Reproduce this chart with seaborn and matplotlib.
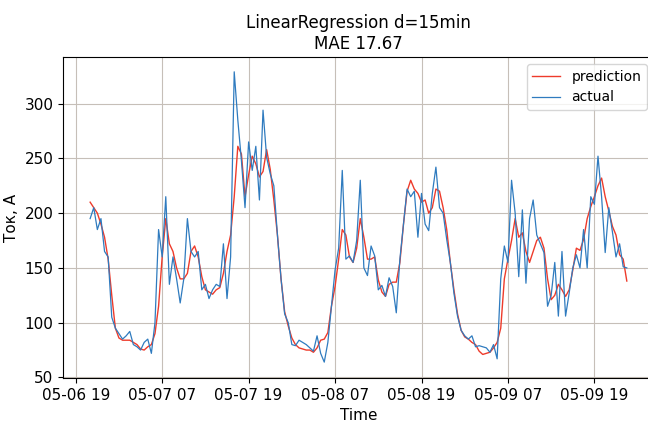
import numpy as np
import pandas as pd
import matplotlib
matplotlib.use("Agg")
import matplotlib.pyplot as plt
import matplotlib.dates as mdates
import seaborn as sns

# 30-min samples, 05-06 21:00 onwards
start_time = "2019-05-06 21:00"
step = "30min"

actual = [
    195, 205, 185, 195, 165, 160, 105, 95, 90, 85,
    88, 92, 80, 78, 75, 82, 85, 72, 100, 185,
    160, 215, 135, 160, 140, 118, 140, 195, 165, 160,
    165, 130, 135, 122, 130, 135, 133, 172, 122, 160,
    329, 285, 248, 205, 265, 239, 261, 212, 294, 251,
    236, 225, 180, 140, 108, 100, 80, 79, 84, 82,
    80, 77, 74, 88, 72, 64, 82, 115, 148, 168,
    239, 158, 161, 155, 175, 230, 150, 143, 170, 161,
    130, 134, 124, 141, 133, 109, 158, 190, 222, 215,
    220, 178, 218, 190, 184, 218, 242, 205, 200, 176,
    155, 127, 106, 93, 88, 85, 88, 78, 79, 78,
    77, 73, 80, 67, 140, 170, 155, 230, 200, 142,
    203, 136, 195, 212, 180, 172, 164, 115, 125, 155,
    106, 165, 106, 127, 150, 162, 150, 185, 150, 215,
    208, 252, 215, 164, 205, 183, 160, 172, 151, 150,
]

prediction = [
    210, 205, 200, 190, 178, 158, 125, 95, 86, 84,
    84, 84, 82, 80, 76, 75, 78, 80, 90, 115,
    160, 195, 172, 165, 150, 140, 140, 145, 165, 170,
    160, 142, 130, 128, 126, 130, 132, 145, 165, 180,
    215, 261, 254, 215, 235, 252, 245, 233, 238, 258,
    240, 212, 180, 140, 110, 97, 86, 80, 77, 76,
    75, 75, 73, 77, 84, 85, 91, 115, 133, 158,
    185, 180, 160, 155, 168, 195, 178, 158, 158, 160,
    139, 128, 124, 135, 137, 137, 155, 190, 220, 230,
    222, 218, 210, 212, 200, 205, 222, 220, 205, 185,
    155, 130, 108, 93, 87, 85, 82, 80, 74, 71,
    72, 73, 77, 82, 95, 140, 158, 175, 195, 178,
    182, 165, 155, 165, 175, 178, 168, 140, 121, 125,
    135, 130, 124, 130, 148, 168, 166, 176, 195, 206,
    215, 225, 232, 215, 202, 188, 180, 162, 158, 138,
]

times = pd.date_range(start_time, periods=len(actual), freq=step)

fig = plt.figure(figsize=(6.48, 4.24), dpi=100)
ax = fig.add_axes([0.0977, 0.1085, 0.911, 0.757])

# prediction first so the actual line sits on top (same order as legend)
sns.lineplot(x=times, y=prediction, color="#ee3b2b", linewidth=1.0,
             label="prediction", ax=ax)
sns.lineplot(x=times, y=actual, color="#2f7bbf", linewidth=0.9,
             label="actual", ax=ax)

margin = (times[-1] - times[0]) * 0.05
ax.set_xlim(times[0] - margin, times[-1] + margin)
ax.set_ylim(49.5, 342.5)
ax.set_yticks([50, 100, 150, 200, 250, 300])

ax.xaxis.set_major_locator(mdates.HourLocator(byhour=[7, 19]))
ax.xaxis.set_major_formatter(mdates.DateFormatter("%m-%d %H"))

ax.grid(True, color="#c6bfb8", linewidth=0.8)
ax.set_axisbelow(True)
for side in ax.spines.values():
    side.set_color("black")

ax.tick_params(labelsize=11)
ax.set_xlabel("Time", fontsize=11)
ax.set_ylabel("Ток, А", fontsize=11)
ax.set_title("LinearRegression d=15min\nMAE 17.67", fontsize=12)
ax.legend(loc="upper right", fontsize=10)

fig.savefig("out.png", dpi=100)
